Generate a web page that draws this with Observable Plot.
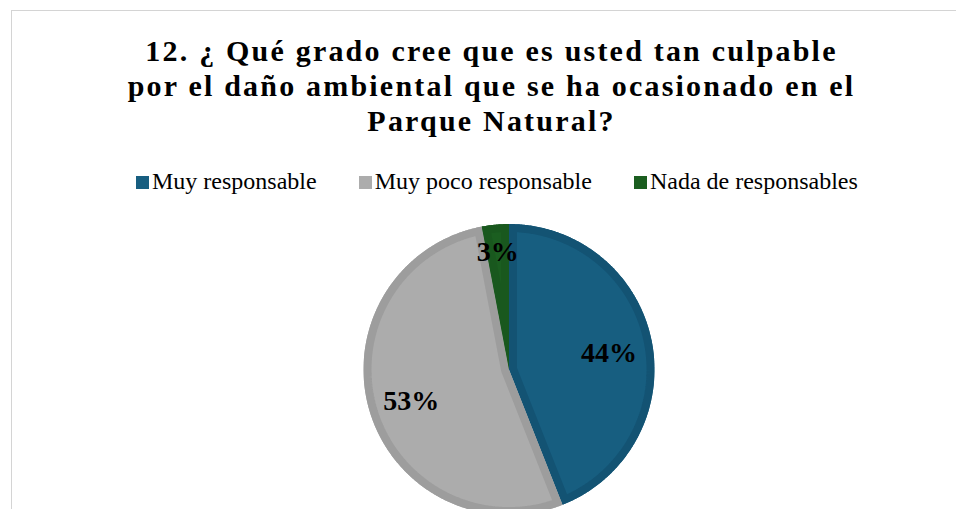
<!DOCTYPE html>
<html>
<head>
<meta charset="utf-8">
<script src="https://cdn.jsdelivr.net/npm/d3@7"></script>
<script src="https://cdn.jsdelivr.net/npm/@observablehq/plot@0.6"></script>
<style>
  html, body { margin: 0; padding: 0; background: #fff; overflow: hidden; width: 956px; height: 509px; }
  body { position: relative; font-family: "Liberation Serif", "Times New Roman", serif; }
  #frame { position: absolute; left: 11px; top: 10px; width: 1000px; height: 600px; border: 1px solid #d4d4d4; box-sizing: border-box; }
  #title { position: absolute; left: 0; top: 33px; width: 983px; text-align: center; font-weight: bold; font-size: 30px; line-height: 35px; letter-spacing: 2.2px; color: #000; }
  #legend { position: absolute; left: 136px; top: 169px; display: flex; gap: 42px; font-size: 24px; line-height: 24px; color: #000; white-space: nowrap; }
  .item { display: flex; align-items: center; }
  .sw { width: 13px; height: 13px; margin-right: 3px; margin-top: 2px; }
  #chart { position: absolute; left: 0; top: 220px; }
</style>
</head>
<body>
<div id="frame"></div>
<div id="title">12. ¿ Qué grado cree que es usted tan culpable<br>por el daño ambiental que se ha ocasionado en el<br>Parque Natural?</div>
<div id="legend"></div>
<div id="chart"></div>
<script>
const categories = ["Muy responsable", "Muy poco responsable", "Nada de responsables"];
const values = [44, 53, 3];
const labels = ["44%", "53%", "3%"];
const fillColors = ["#175e80", "#acacac", "#1b5e20"];
const borderColors = ["#135373", "#9d9d9d", "#19581e"];

// legend
const legend = d3.select("#legend");
categories.forEach((c, i) => {
  const it = legend.append("div").attr("class", "item");
  it.append("div").attr("class", "sw").style("background", fillColors[i]);
  it.append("span").text(c);
});

const R = 145.5;
const band = 8;
const arcs = d3.pie().sort(null).value(d => d)(values);

const pts = [];
arcs.forEach((a, i) => {
  pts.push({key: i, x: 0, y: 0});
  const n = Math.max(2, Math.ceil((a.endAngle - a.startAngle) / (Math.PI / 360)));
  for (let k = 0; k <= n; k++) {
    const t = a.startAngle + (a.endAngle - a.startAngle) * k / n;
    pts.push({key: i, x: R * Math.sin(t), y: R * Math.cos(t)});
  }
});

const labelData = arcs.map((a, i) => {
  const m = (a.startAngle + a.endAngle) / 2;
  const frac = values[i] < 5 ? 0.83 : 0.7;
  return {x: R * frac * Math.sin(m), y: R * frac * Math.cos(m), text: labels[i]};
});

const chart = Plot.plot({
  width: 956,
  height: 289,
  margin: 0,
  x: {domain: [-508.5, 447.5], axis: null},
  y: {domain: [-140, 149], axis: null},
  color: {type: "identity"},
  marks: [
    Plot.line(pts, {x: "x", y: "y", z: "key", fill: d => fillColors[d.key], stroke: "none", curve: "linear-closed"}),
    Plot.line(pts, {x: "x", y: "y", z: "key", fill: "none", stroke: d => borderColors[d.key], strokeWidth: band * 2, strokeLinejoin: "miter", curve: "linear-closed"}),
    Plot.text(labelData, {x: "x", y: "y", text: "text", dy: 3, fontSize: 28, fontWeight: "bold", fontFamily: "Liberation Serif, Times New Roman, serif", fill: "#000"})
  ]
});
document.getElementById("chart").appendChild(chart);

// clip each slice's border band to its own slice so that it lies inside
const svg = d3.select(chart);
const groups = chart.querySelectorAll('g[aria-label="line"]');
if (groups.length >= 2) {
  const fillPaths = groups[0].querySelectorAll("path");
  const strokePaths = groups[1].querySelectorAll("path");
  const defs = svg.insert("defs", ":first-child");
  strokePaths.forEach((p, i) => {
    const id = "slice-clip-" + i;
    defs.append("clipPath").attr("id", id).append("path").attr("d", fillPaths[i].getAttribute("d"));
    p.setAttribute("clip-path", `url(#${id})`);
  });
}
</script>
</body>
</html>
